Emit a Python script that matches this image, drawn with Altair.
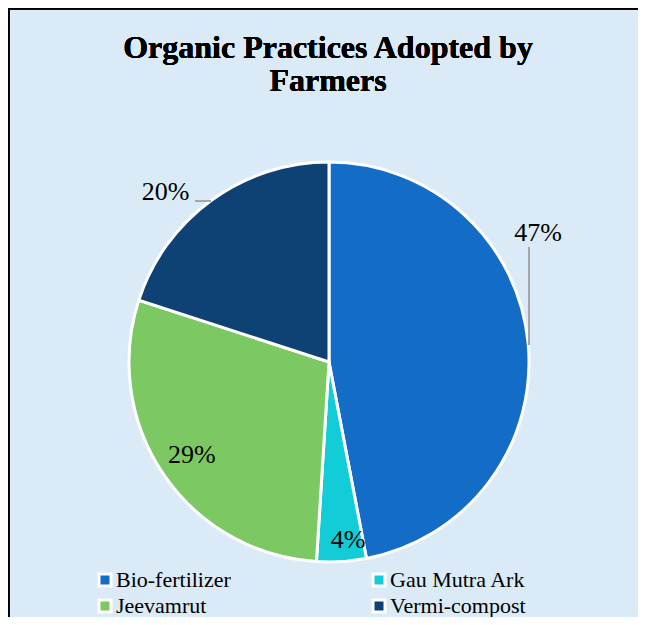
import altair as alt
import pandas as pd

categories = ["Bio-fertilizer", "Gau Mutra Ark", "Jeevamrut", "Vermi-compost"]
shares = [47, 4, 29, 20]
labels = ["47%", "4%", "29%", "20%"]
colors = ["#136DC6", "#12CCD8", "#7CC862", "#0E4174"]
title_lines = ["Organic Practices Adopted by", "Farmers"]

# legend shows entries column-major: put them so rows read Bio|Gau, Jeev|Vermi
legend_order = [categories[0], categories[2], categories[1], categories[3]]
legend_colors = [colors[0], colors[2], colors[1], colors[3]]

df = pd.DataFrame({
    "category": categories,
    "value": shares,
    "label": labels,
    "idx": list(range(len(categories))),
})

BG = "#DAEBF7"
SERIF = "'Liberation Serif', 'Times New Roman', Times, serif"
W, H = 630, 609
CX, CY = 321, 354  # pie centre in view coordinates

base = alt.Chart(df).encode(
    theta=alt.Theta("value:Q", stack=True),
    order=alt.Order("idx:Q"),
)

pie = base.mark_arc(outerRadius=200, stroke="white", strokeWidth=3).encode(
    x=alt.value(CX),
    y=alt.value(CY),
    color=alt.Color(
        "category:N",
        scale=alt.Scale(domain=legend_order, range=legend_colors),
        sort=legend_order,
        legend=alt.Legend(
            title=None,
            orient="none",
            legendX=86,
            legendY=561,
            columns=2,
            columnPadding=136,
            rowPadding=2,
            symbolType="square",
            symbolSize=144,
            symbolStrokeColor="white",
            symbolStrokeWidth=3,
            labelFont=SERIF,
            labelFontSize=22,
            labelColor="black",
            labelOffset=0,
            labelLimit=300,
        ),
    ),
)


def label_layer(cat, r, dx, dy):
    return base.mark_text(
        radius=r, dx=dx, dy=dy, font=SERIF, fontSize=26, color="black"
    ).encode(
        x=alt.value(CX),
        y=alt.value(CY),
        text=alt.condition(alt.datum.category == cat, "label:N", alt.value("")),
    )


lbl_bio = label_layer("Bio-fertilizer", 210, 0, -109)
lbl_gau = label_layer("Gau Mutra Ark", 178, 8, 0)
lbl_jee = label_layer("Jeevamrut", 166, 0, 0)
lbl_ver = label_layer("Vermi-compost", 237, -24, 22)

# leader lines (annotation)
lead1 = alt.Chart(df).mark_rule(color="#A6A6A6", strokeWidth=1.5).encode(
    x=alt.value(521), y=alt.value(239), y2=alt.value(337)
)
lead2 = alt.Chart(df).mark_rule(color="#A6A6A6", strokeWidth=1.5).encode(
    x=alt.value(187), x2=alt.value(203), y=alt.value(193)
)

# chart title
title = alt.Chart(df).mark_text(
    text=title_lines,
    font=SERIF,
    fontSize=32,
    fontWeight="bold",
    color="black",
    align="center",
    baseline="alphabetic",
    lineHeight=33,
).encode(x=alt.value(320), y=alt.value(50))

# chart frame edges (left and top)
frame_left = alt.Chart(df).mark_rule(color="black", strokeWidth=3).encode(
    x=alt.value(0), y=alt.value(0), y2=alt.value(H)
)
frame_top = alt.Chart(df).mark_rule(color="black", strokeWidth=3).encode(
    x=alt.value(0), x2=alt.value(W), y=alt.value(0)
)

chart = alt.layer(
    pie, lbl_bio, lbl_gau, lbl_jee, lbl_ver, lead1, lead2, title,
    frame_left, frame_top
).properties(
    width=W,
    height=H,
    autosize=alt.AutoSizeParams(type="none"),
    padding=0,
    background=BG,
).configure_view(stroke=None)

chart.save("out.html", embed_options={"renderer": "svg", "actions": False})
